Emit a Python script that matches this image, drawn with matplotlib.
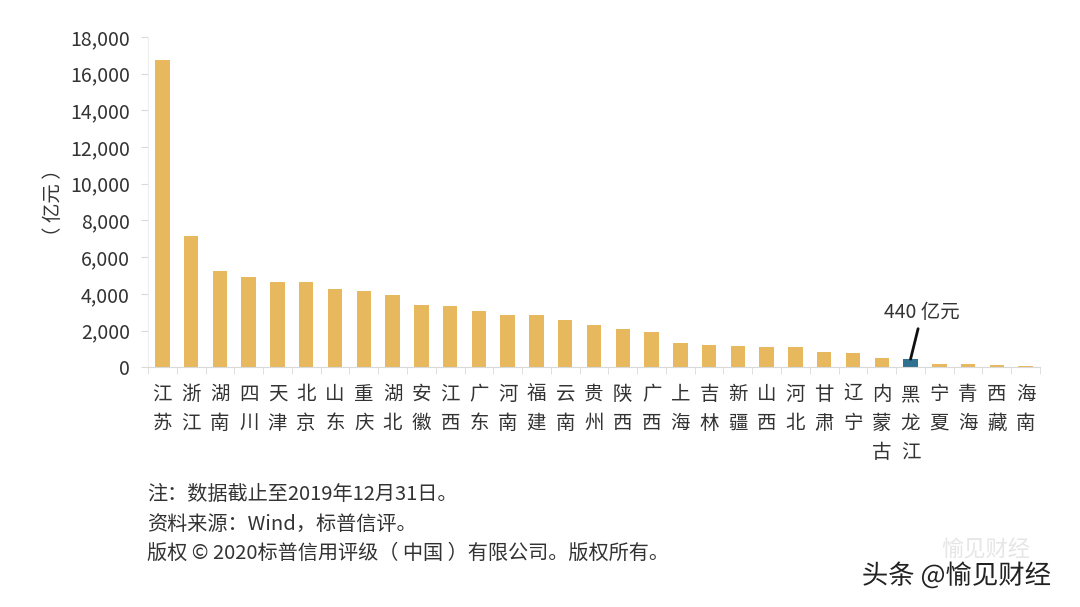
import matplotlib
matplotlib.use("Agg")
import matplotlib.pyplot as plt
import matplotlib.patheffects as pe
from matplotlib.ticker import FuncFormatter, FixedLocator

plt.rcParams['font.family'] = ['Noto Sans CJK SC', 'DejaVu Sans']

provinces = ["江苏", "浙江", "湖南", "四川", "天津", "北京", "山东", "重庆", "湖北", "安徽",
             "江西", "广东", "河南", "福建", "云南", "贵州", "陕西", "广西", "上海", "吉林",
             "新疆", "山西", "河北", "甘肃", "辽宁", "内蒙古", "黑龙江", "宁夏", "青海", "西藏", "海南"]
values = [16750, 7150, 5240, 4910, 4640, 4630, 4260, 4150, 3930, 3380,
          3350, 3050, 2840, 2840, 2560, 2290, 2070, 1910, 1300, 1200,
          1150, 1120, 1080, 820, 750, 480, 440, 150, 150, 100, 80]
highlight = "黑龙江"

gold = "#E7B85E"
teal = "#2F7190"
grid_c = "#D9D9D9"
text_c = "#333333"

fig = plt.figure(figsize=(10.8, 6.07), dpi=100)
ax = fig.add_axes([0.137, 0.395, 0.826, 0.544])

x = list(range(len(provinces)))
colors = [teal if p == highlight else gold for p in provinces]
ax.bar(x, values, width=0.5, color=colors, zorder=2)

ax.set_xlim(-0.5, len(provinces) - 0.5)
ax.set_ylim(0, 18000)
ax.set_yticks(range(0, 18001, 2000))
ax.yaxis.set_major_formatter(FuncFormatter(lambda v, p: f"{int(v):,}"))
ax.tick_params(axis='y', labelsize=14, colors=grid_c, labelcolor=text_c, length=5, pad=8)

# category labels stacked vertically
ax.set_xticks(x)
ax.set_xticklabels(["\n".join(p) for p in provinces], fontsize=14, color=text_c,
                   linespacing=1.5, va='top')
ax.tick_params(axis='x', length=0, pad=12)
ax.xaxis.set_minor_locator(FixedLocator([i - 0.5 for i in range(len(provinces) + 1)]))
ax.tick_params(axis='x', which='minor', length=5, color=grid_c)

for s in ["top", "right"]:
    ax.spines[s].set_visible(False)
ax.spines["left"].set_color("#EEEEEE")
ax.spines["bottom"].set_color(grid_c)

ax.set_ylabel("（ 亿元 ）", fontsize=14, color=text_c, labelpad=4)

hi = provinces.index(highlight)
ax.annotate("440 亿元", xy=(hi, values[hi]), xytext=(hi + 0.4, 2400),
            fontsize=14, color=text_c, ha='center', va='bottom',
            arrowprops=dict(arrowstyle='-', color='#111111', lw=2, shrinkA=2, shrinkB=0))

notes = ["注：数据截止至2019年12月31日。",
         "资料来源：Wind，标普信评。",
         "版权 © 2020标普信用评级（ 中国 ）有限公司。版权所有。"]
for i, n in enumerate(notes):
    fig.text(0.136, 1 - (495 + 29 * i) / 607, n, fontsize=14.5, color=text_c, va='center')

fig.text(0.872, 1 - 550 / 607, "愉见财经", fontsize=16, color="#E6E6E6", va='center')
fig.text(0.798, 1 - 576 / 607, "头条 @愉见财经", fontsize=19, color="#222222", va='center',
         path_effects=[pe.withStroke(linewidth=3, foreground='white')])

fig.savefig("out.png", dpi=100)
